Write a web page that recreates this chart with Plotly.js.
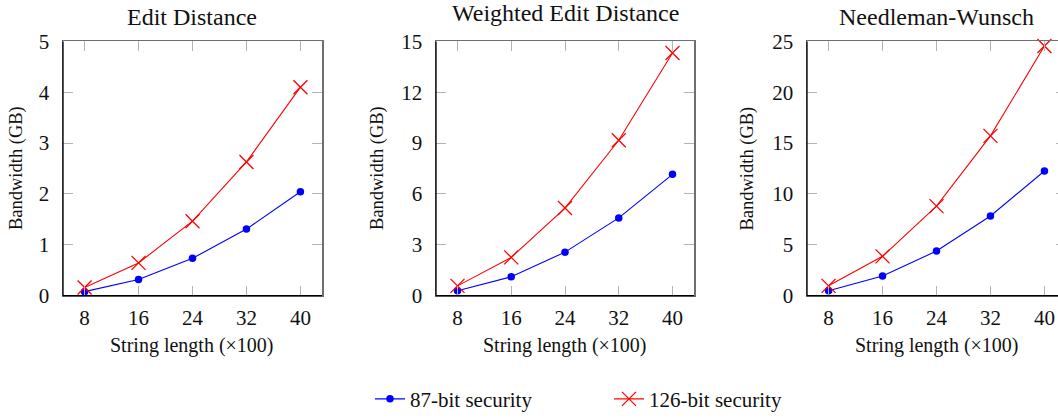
<!DOCTYPE html>
<html>
<head>
<meta charset="utf-8">
<script src="https://cdn.plot.ly/plotly-3.0.1.min.js"></script>
<style>
html, body { margin: 0; padding: 0; overflow: hidden; background: #fff; }
#chart { width: 1080px; height: 420px; }
</style>
</head>
<body>
<div id="chart"></div>
<script>
// ---- data ----
const stringLength = [8, 16, 24, 32, 40];
const panelTitles = ["Edit Distance", "Weighted Edit Distance", "Needleman-Wunsch"];
const seriesNames = ["87-bit security", "126-bit security"];

const editDist87 = [0.08, 0.32, 0.735, 1.31, 2.045];
const editDist126 = [0.16, 0.645, 1.465, 2.63, 4.1];

const weighted87 = [0.29, 1.12, 2.57, 4.59, 7.16];
const weighted126 = [0.58, 2.26, 5.17, 9.17, 14.32];

const needleman87 = [0.48, 1.94, 4.39, 7.84, 12.26];
const needleman126 = [0.97, 3.87, 8.81, 15.71, 24.55];

const yMax = [5, 15, 25];
const yStep = [1, 3, 5];
const xLabel = "String length (×100)";
const yLabel = "Bandwidth (GB)";

// ---- layout helpers ----
const W = 1080, H = 420;
const FONT = "Liberation Serif";
const boxes = [[63, 322], [436, 694], [807, 1066]];
const yTop = 42, yBot = 300;
const px = v => v / W;
const py = v => 1 - v / H;

const seriesData = [[editDist87, editDist126], [weighted87, weighted126], [needleman87, needleman126]];

const traces = [];
const layout = {
  width: W, height: H,
  margin: {l: 0, r: 0, t: 0, b: 0},
  paper_bgcolor: "#fff", plot_bgcolor: "#fff",
  font: {family: FONT, color: "#111", size: 20},
  showlegend: true,
  legend: {
    orientation: "h", x: 609 / W, xanchor: "center", y: py(405), yanchor: "middle",
    font: {family: FONT, size: 21, color: "#111"},
    entrywidth: 194, tracegroupgap: 0
  },
  annotations: [], shapes: []
};

for (let i = 0; i < 3; i++) {
  const sfx = i === 0 ? "" : String(i + 1);
  const xa = "x" + sfx, ya = "y" + sfx;
  const [b87, r126] = seriesData[i];
  traces.push({
    x: stringLength, y: b87, xaxis: xa, yaxis: ya, type: "scatter", mode: "lines+markers",
    name: seriesNames[0], legendgroup: "a", showlegend: i === 0, cliponaxis: false,
    line: {color: "#0000ff", width: 1.1},
    marker: {symbol: "circle", size: 7.5, color: "#0000ff"}
  });
  traces.push({
    x: stringLength, y: r126, xaxis: xa, yaxis: ya, type: "scatter", mode: "lines+markers",
    name: seriesNames[1], legendgroup: "b", showlegend: i === 0, cliponaxis: false,
    line: {color: "#ff0000", width: 1.1},
    marker: {symbol: "x-thin-open", size: 14, color: "#ff0000", line: {color: "#ff0000", width: 1.3}}
  });

  const [l, r] = boxes[i];
  const axCommon = {
    showgrid: false, zeroline: false, showline: true, linecolor: "#6f6f6f", linewidth: 1.5,
    mirror: "ticks", ticks: "inside", ticklen: 10, tickwidth: 1, tickcolor: "#b3b3b3",
    tickfont: {family: FONT, size: 21, color: "#111"}, fixedrange: true
  };
  layout["xaxis" + sfx] = Object.assign({}, axCommon, {
    domain: [px(l), px(r)], anchor: ya, range: [4.8, 43.2],
    tickmode: "array", tickvals: stringLength, ticktext: stringLength.map(String),
    ticklabelstandoff: 3
  });
  const yt = [];
  for (let v = 0; v <= yMax[i]; v += yStep[i]) yt.push(v);
  layout["yaxis" + sfx] = Object.assign({}, axCommon, {
    domain: [py(yBot), py(yTop)], anchor: xa, range: [0, yMax[i]],
    tickmode: "array", tickvals: yt, ticktext: yt.map(String),
    ticklabelstandoff: 8
  });
  // black left & bottom axis lines
  layout.shapes.push({type: "line", xref: xa + " domain", yref: ya + " domain", x0: 0, x1: 0, y0: 0, y1: 1,
    line: {color: "#000", width: 1.3}, layer: "above"});
  layout.shapes.push({type: "line", xref: xa + " domain", yref: ya + " domain", x0: 0, x1: 1, y0: 0, y1: 0,
    line: {color: "#000", width: 1.3}, layer: "above"});

  const cx = (l + r) / 2;
  layout.annotations.push({
    text: panelTitles[i], xref: "paper", yref: "paper", x: px(cx), y: py(i === 1 ? 13 : 17),
    xanchor: "center", yanchor: "middle", showarrow: false,
    font: {family: FONT, size: 24, color: "#111"}
  });
  layout.annotations.push({
    text: xLabel, xref: "paper", yref: "paper", x: px(cx), y: py(350),
    xanchor: "center", yanchor: "middle", showarrow: false,
    font: {family: FONT, size: 20, color: "#111"}
  });
  const ylx = [16.5, 377.5, 748][i];
  layout.annotations.push({
    text: yLabel, xref: "paper", yref: "paper", x: px(ylx), y: py(171),
    xanchor: "center", yanchor: "middle", showarrow: false, textangle: -90,
    font: {family: FONT, size: 18.5, color: "#111"}
  });
}

Plotly.newPlot("chart", traces, layout, {displayModeBar: false, staticPlot: true});
</script>
</body>
</html>
